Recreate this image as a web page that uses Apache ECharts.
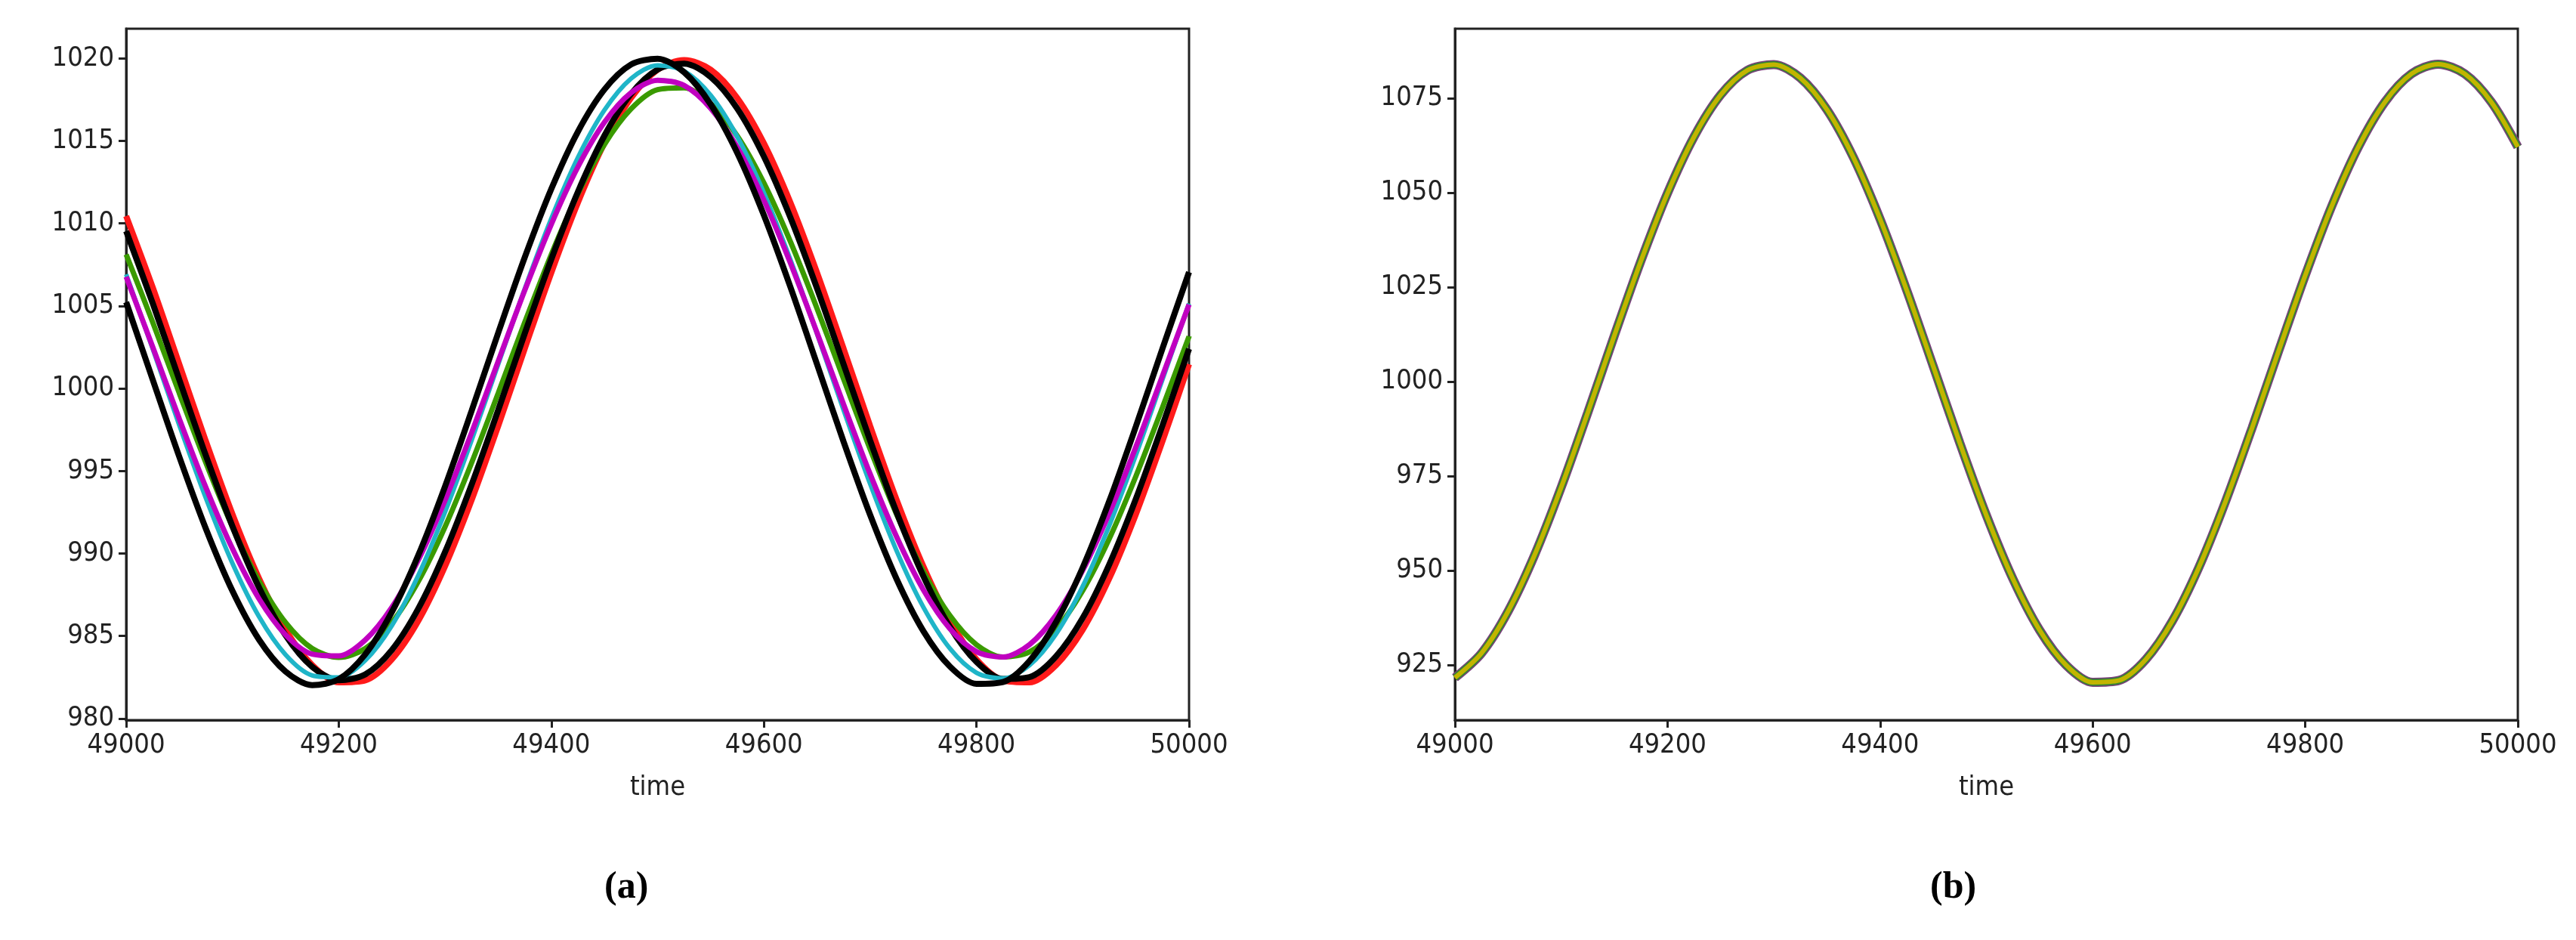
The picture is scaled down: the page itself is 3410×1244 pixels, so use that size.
<!DOCTYPE html>
<html>
<head>
<meta charset="utf-8">
<script src="https://cdn.jsdelivr.net/npm/echarts@6/dist/echarts.min.js"></script>
<style>html,body{margin:0;padding:0;background:#fff}#main{width:3410px;height:1244px}</style>
</head>
<body>
<div id="main"></div>
<script>
// time samples, every 25 steps
var times = [];
for (var t = 49000; t <= 50000; t += 25) times.push(t);
// panel (a) series
var redA = [1010.45,1006.12,1001.47,996.80,992.38,988.49,985.38,983.24,982.19,982.31,983.58,985.93,989.22,993.23,997.72,1002.41,1007.02,1011.26,1014.86,1017.60,1019.32,1019.90,1019.32,1017.60,1014.86,1011.26,1007.02,1002.41,997.72,993.23,989.22,985.93,983.58,982.31,982.19,983.24,985.38,988.49,992.38,996.80,1001.47];
var greenA = [1008.12,1004.01,999.71,995.49,991.61,988.32,985.81,984.24,983.70,984.24,985.81,988.32,991.61,995.49,999.71,1004.01,1008.12,1011.79,1014.79,1016.94,1018.11,1018.22,1017.26,1015.30,1012.45,1008.89,1004.85,1000.57,996.32,992.35,988.92,986.24,984.47,983.72,984.04,985.41,987.75,990.90,994.68,998.85,1003.15];
var cyanA = [1006.92,1002.39,997.77,993.35,989.40,986.17,983.86,982.61,982.49,983.52,985.63,988.69,992.51,996.86,1001.46,1006.04,1010.30,1013.99,1016.87,1018.78,1019.58,1019.23,1017.76,1015.25,1011.86,1007.80,1003.31,998.69,994.21,990.14,986.75,984.24,982.77,982.43,983.23,985.13,988.01,991.70,995.96,1000.54,1005.14];
var magentaA = [1006.77,1002.51,998.16,994.00,990.29,987.25,985.07,983.90,983.79,984.76,986.74,989.62,993.22,997.31,1001.64,1005.94,1009.95,1013.42,1016.13,1017.92,1018.68,1018.36,1016.97,1014.61,1011.41,1007.59,1003.38,999.03,994.81,990.99,987.80,985.44,984.05,983.72,984.48,986.27,988.98,992.45,996.46,1000.76,1005.09];
var blackA1 = [1005.23,1000.53,995.86,991.50,987.73,984.78,982.84,982.02,982.38,983.89,986.45,989.91,994.06,998.64,1003.36,1007.94,1012.09,1015.56,1018.12,1019.63,1019.98,1019.16,1017.21,1014.27,1010.5,1006.14,1001.47,996.77,992.33,988.43,985.30,983.15,982.10,982.21,983.49,985.85,989.15,993.18,997.70,1002.42,1007.05];
var blackA2 = [1009.53,1005.16,1000.53,995.93,991.65,987.94,985.04,983.13,982.32,982.67,984.15,986.67,990.08,994.17,998.68,1003.33,1007.83,1011.91,1015.32,1017.85,1019.33,1019.68,1018.87,1016.96,1014.06,1010.35,1006.06,1001.46,996.84,992.47,988.63,985.55,983.43,982.39,982.51,983.77,986.09,989.34,993.31,997.76,1002.40];
// panel (b)
var seriesB = [921.62,928.12,939.19,954.14,972.05,991.81,1012.19,1031.95,1049.86,1064.81,1075.88,1082.38,1083.90,1080.36,1071.97,1059.26,1043.0,1024.21,1004.04,983.75,964.59,947.74,934.25,924.95,920.41,920.92,926.44,936.63,950.87,968.27,987.76,1008.13,1028.12,1046.49,1062.11,1074.02,1081.47,1084.01,1081.47,1074.02,1062.11];
var ticksA = [980,985,990,995,1000,1005,1010,1015,1020];
var ticksB = [925,950,975,1000,1025,1050,1075];

function pairs(v){ return times.map(function(t,i){ return [t, v[i]]; }); }
function line(idx, v, color, w){
  return {type:'line', xAxisIndex:idx, yAxisIndex:idx, data:pairs(v), smooth:0.3, symbol:'none',
    lineStyle:{color:color, width:w}, silent:true};
}
var lbl = {color:'#222', fontSize:36, fontFamily:'DejaVu Sans Condensed'};
function plain(v){ return String(v); }
function xAx(idx){
  return {type:'value', gridIndex:idx, min:49000, max:50000, interval:200,
    name:'time', nameLocation:'middle', nameGap:72, nameTextStyle:lbl,
    axisLine:{lineStyle:{color:'#222', width:3}}, axisTick:{length:10, lineStyle:{color:'#222', width:3}},
    axisLabel:Object.assign({margin:16, formatter:plain}, lbl), splitLine:{show:false}};
}
function yAx(idx, min, max, ticks){
  return {type:'value', gridIndex:idx, min:min, max:max,
    axisLine:{show:true, lineStyle:{color:'#222', width:3}},
    axisTick:{show:true, length:10, customValues:ticks, lineStyle:{color:'#222', width:3}},
    axisLabel:Object.assign({margin:16, customValues:ticks, formatter:plain}, lbl), splitLine:{show:false}};
}
var chart = echarts.init(document.getElementById('main'));
chart.setOption({
  animation:false,
  grid:[
    {left:167, right:1836, top:38, height:915, show:true, borderColor:'#222', borderWidth:3},
    {left:1926, right:77, top:38, height:915, show:true, borderColor:'#222', borderWidth:3}
  ],
  xAxis:[xAx(0), xAx(1)],
  yAxis:[yAx(0, 979.9, 1021.8, ticksA), yAx(1, 910.4, 1093.4, ticksB)],
  graphic:[
    {type:'text', left:800, top:1150, style:{text:'(a)', font:'bold 50px "Liberation Serif"', fill:'#000'}},
    {type:'text', left:2555, top:1150, style:{text:'(b)', font:'bold 50px "Liberation Serif"', fill:'#000'}}
  ],
  series:[
    line(0, redA, '#ff1a1a', 8),
    line(0, greenA, '#3a9a00', 7),
    line(0, blackA2, '#000', 8),
    line(0, cyanA, '#1fb5c8', 6),
    line(0, magentaA, '#c000c0', 7),
    line(0, blackA1, '#000', 8),
    line(1, seriesB, '#7a3f7a', 12),
    line(1, seriesB, '#2f8a30', 9),
    line(1, seriesB, '#c2b400', 6)
  ]
});
</script>
</body>
</html>
